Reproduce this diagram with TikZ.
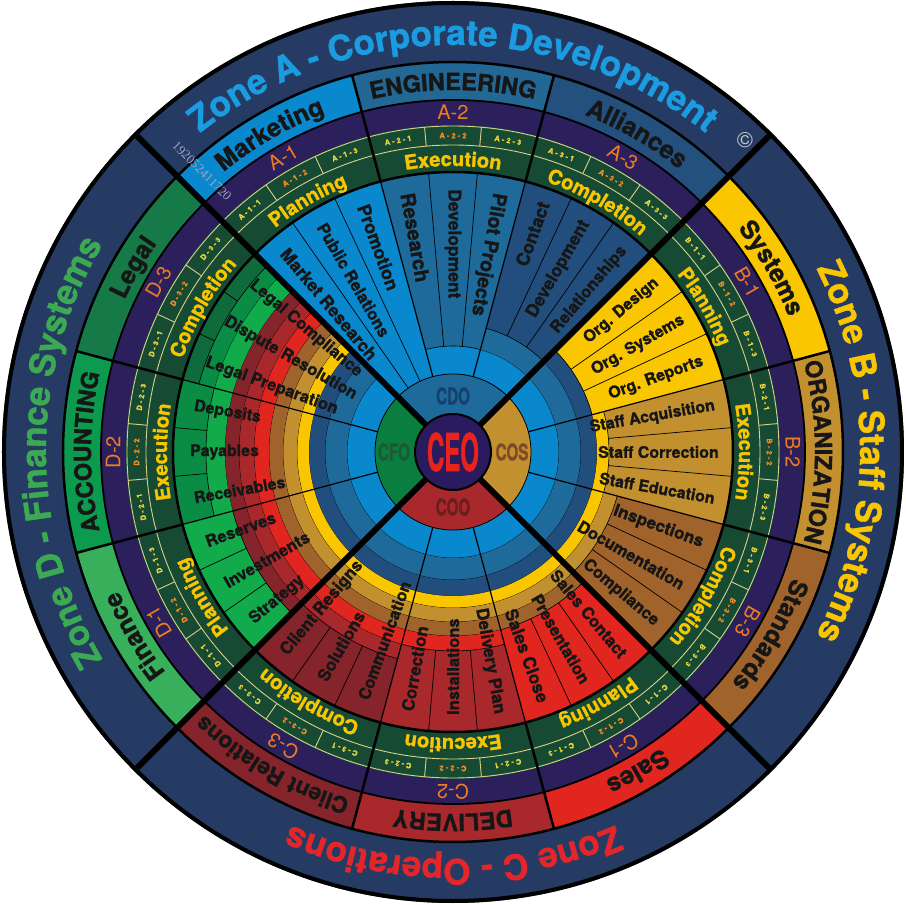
\documentclass[tikz,border=0pt]{standalone}
\usepackage{fontspec}
\usepackage{graphicx}
\setmainfont{TeX Gyre Heros}[BoldFeatures={FakeBold=1.3}]
\newfontfamily\lserif{Liberation Serif}
\usetikzlibrary{decorations.text}
% ring / department colours
\definecolor{c0}{HTML}{0A88CE}\definecolor{c1}{HTML}{1D6A9B}\definecolor{c2}{HTML}{224E7E}
\definecolor{c3}{HTML}{F9C600}\definecolor{c4}{HTML}{C3902F}\definecolor{c5}{HTML}{9F632B}
\definecolor{c6}{HTML}{E1261F}\definecolor{c7}{HTML}{A8282B}\definecolor{c8}{HTML}{85242A}
\definecolor{c9}{HTML}{12AB4C}\definecolor{c10}{HTML}{0B8C45}\definecolor{c11}{HTML}{0F6B3C}
\definecolor{b0}{HTML}{0A88CE}\definecolor{b1}{HTML}{236894}\definecolor{b2}{HTML}{24507E}
\definecolor{b3}{HTML}{F9C600}\definecolor{b4}{HTML}{C3902F}\definecolor{b5}{HTML}{9F632B}
\definecolor{b6}{HTML}{E1261F}\definecolor{b7}{HTML}{A8282B}\definecolor{b8}{HTML}{85242A}
\definecolor{b9}{HTML}{38AF5A}\definecolor{b10}{HTML}{0B9A4E}\definecolor{b11}{HTML}{167A48}
\definecolor{zbg}{HTML}{253B63}
\definecolor{purp}{HTML}{2B1F5C}
\definecolor{phg}{HTML}{174A32}
\definecolor{lightl}{HTML}{D6D28A}
\definecolor{suby}{HTML}{E8D43C}
\definecolor{subor}{HTML}{F28C28}
\definecolor{codeor}{HTML}{F07B22}
\definecolor{phy}{HTML}{F7C600}
\definecolor{itemtx}{HTML}{161616}
\definecolor{zA}{HTML}{1B9BE0}\definecolor{zB}{HTML}{F9C600}
\definecolor{zC}{HTML}{E2262A}\definecolor{zD}{HTML}{3BAA52}
\definecolor{cdo}{HTML}{1D6A9B}\definecolor{cosc}{HTML}{C3902F}
\definecolor{coo}{HTML}{A8282B}\definecolor{cfo}{HTML}{0A7E3E}
\definecolor{ceop}{HTML}{2A1B5E}\definecolor{ceored}{HTML}{E8231C}
\definecolor{tcdo}{HTML}{17406E}\definecolor{tcos}{HTML}{7C4A26}
\definecolor{tcoo}{HTML}{6A1E1E}\definecolor{tcfo}{HTML}{1B5A32}
\definecolor{serialc}{HTML}{9AA4C0}\definecolor{copyc}{HTML}{C8C8C8}
\def\rrad{{78,106,128,144,156,170,184,199,214,228,247,263}}
\newcommand\annsec[5]{\fill[#1] (#2:#4) arc[start angle=#2,end angle=#3,radius=#4] -- (#3:#5) arc[start angle=#3,end angle=#2,radius=#5] -- cycle;}
\newcommand\curvtext[5]{\path[decorate,decoration={text along path,text align=center,text={|#4|#5}}] (#2+#3:#1) arc[start angle=#2+#3,end angle=#2-#3,radius=#1];}
\newcommand\fzA{\bfseries\fontsize{35}{37}\selectfont\color{zA}}
\newcommand\fzB{\bfseries\fontsize{35}{37}\selectfont\color{zB}}
\newcommand\fzC{\bfseries\fontsize{35}{37}\selectfont\color{zC}}
\newcommand\fzD{\bfseries\fontsize{35}{37}\selectfont\color{zD}}
\newcommand\fdept{\bfseries\fontsize{25}{27}\selectfont\color{itemtx}}
\newcommand\fdeptC{\bfseries\fontsize{23.5}{25}\selectfont\color{itemtx}}
\newcommand\fdeptS{\bfseries\fontsize{22.5}{25}\selectfont\color{itemtx}}
\newcommand\fph{\bfseries\fontsize{20}{22}\selectfont\color{phy}}
\begin{document}
\begin{tikzpicture}[x=1pt,y=1pt,
  ringarc/.style={line width=0.6pt,draw=black},
  itemline/.style={line width=0.7pt,draw=black},
  itemtxt/.style={text=itemtx,inner sep=0pt},
  subtxt/.style={font=\bfseries\fontsize{7.5}{8}\selectfont,inner sep=0pt},
  codetxt/.style={font=\fontsize{20}{20}\selectfont,text=codeor,inner sep=0pt},
  lightline/.style={draw=lightl,line width=0.9pt},
  ctrtxt/.style={font=\bfseries\fontsize{23}{23}\selectfont,inner sep=0pt}]
\useasboundingbox (-453,-453) rectangle (453,452);
\fill[zbg] (0,0) circle (451);
% department bands
\foreach \kk in {0,...,11}{
  \pgfmathsetmacro\ahi{135-30*\kk}
  \pgfmathsetmacro\alo{105-30*\kk}
  \annsec{b\kk}{\alo}{\ahi}{352}{390}
}
\fill[purp] (0,0) circle (352);
\fill[phg] (0,0) circle (327);
% inner spiral rings
\foreach \kk in {0,...,11}{
  \pgfmathsetmacro\ahi{135-30*\kk}
  \pgfmathsetmacro\alo{105-30*\kk}
  \pgfmathsetmacro\rK{\rrad[\kk]}
  \annsec{c\kk}{\alo}{\ahi}{\rK}{280}
  \ifnum\kk>0
    \pgfmathtruncatemacro\kmm{\kk-1}
    \foreach \jj in {0,...,\kmm}{
      \pgfmathsetmacro\rA{\rrad[\jj]}
      \pgfmathtruncatemacro\jn{\jj+1}
      \pgfmathsetmacro\rB{\rrad[\jn]}
      \annsec{c\jj}{\alo}{\ahi}{\rA}{\rB}
      \draw[ringarc] (\alo:\rB) arc[start angle=\alo,end angle=\ahi,radius=\rB];
    }
  \fi
  \pgfmathsetmacro\aX{\ahi-10}
  \pgfmathsetmacro\aY{\ahi-20}
  \draw[itemline] (\aX:\rK) -- (\aX:280);
  \draw[itemline] (\aY:\rK) -- (\aY:280);
}
% centre quadrants
\fill[cdo] (0,0) -- (45:78) arc[start angle=45,end angle=135,radius=78] -- cycle;
\fill[cfo] (0,0) -- (135:78) arc[start angle=135,end angle=225,radius=78] -- cycle;
\fill[coo] (0,0) -- (225:78) arc[start angle=225,end angle=315,radius=78] -- cycle;
\fill[cosc] (0,0) -- (-45:78) arc[start angle=-45,end angle=45,radius=78] -- cycle;
\draw[line width=0.8pt] (0,0) circle (78);
% light sub-code lines
\draw[lightline] (0,0) circle (307);
\draw[lightline] (0,0) circle (326);
\foreach \m in {0,...,35}{
  \pgfmathtruncatemacro\mr{mod(\m,3)}
  \pgfmathsetmacro\aS{135-10*\m}
  \ifnum\mr>0 \draw[lightline] (\aS:307) -- (\aS:326); \fi
}
% circles
\draw[line width=2.5pt] (0,0) circle (280);
\draw[line width=1.8pt] (0,0) circle (352);
\draw[line width=2.5pt] (0,0) circle (390);
\draw[line width=4pt] (0,0) circle (449);
% department dividers
\foreach \aD in {105,75,15,-15,-75,-105,165,-165}{
  \draw[line width=1.2pt] (\aD:78) -- (\aD:280);
  \draw[line width=2.5pt] (\aD:280) -- (\aD:390);
}
% quadrant dividers
\foreach \aD in {45,135,225,315}{
  \draw[line width=6pt] (\aD:38) -- (\aD:449);
}
\fill[ceop] (0,0) circle (38);
\draw[line width=2pt] (0,0) circle (38);
% centre labels
\node (ceo) at (0,0) {\scalebox{0.46}[1]{\fontsize{52}{52}\selectfont\bfseries\color{ceored}CEO}};
\node[ctrtxt,text=tcdo] (cdo) at (90:56) {\scalebox{0.66}[1]{CDO}};
\node[ctrtxt,text=tcos] (cos) at (0:59) {\scalebox{0.66}[1]{COS}};
\node[ctrtxt,text=tcoo] (coo) at (-90:55) {\scalebox{0.66}[1]{COO}};
\node[ctrtxt,text=tcfo] (cfo) at (180:59) {\scalebox{0.66}[1]{CFO}};
% item texts reading outward
\foreach \aI/\fs/\txt in {70/18/Contact,60/17.5/Development,50/16.5/Relationships,40/16/Org. Design,30/16/Org. Systems,20/16/Org. Reports,10/16/Staff Acquisition,0/16/Staff Correction,-10/16/Staff Education,-20/17/Inspections,-30/16.5/Documentation,-40/16.5/Compliance,-50/16.5/Sales Contact,-60/16.5/Presentation,-70/17.5/Sales Close,-80/17/Delivery Plan}{
  \node[itemtxt,font=\bfseries\fontsize{\fs}{\fs}\selectfont,rotate=\aI,anchor=east] at (\aI:266) {\txt};
}
% item texts reading inward
\foreach \aI/\fs/\txt in {130/17.5/Market Research,120/16.5/Public Relations,110/18/Promotion,100/20/Research,90/17.5/Development,80/19.5/Pilot Projects,-90/16.5/Installations,-100/17/Correction,-110/16.5/Communication,-120/17/Solutions,-130/17/Client Resigns,-140/16.5/Strategy,-150/16.5/Investments,-160/16.5/Reserves,-170/16/Receivables,180/16/Payables,170/16/Deposits,160/16.5/Legal Preparation,150/16.5/Dispute Resolution,140/16.5/Legal Compliance}{
  \pgfmathsetmacro\rI{\aI-180}
  \node[itemtxt,font=\bfseries\fontsize{\fs}{\fs}\selectfont,rotate=\rI,anchor=west] at (\aI:263) {\txt};
}
% sub codes and department codes
\foreach \kk/\zl/\dnum in {0/A/1,1/A/2,2/A/3,3/B/1,4/B/2,5/B/3,6/C/1,7/C/2,8/C/3,9/D/1,10/D/2,11/D/3}{
  \foreach \mm in {1,2,3}{
    \pgfmathsetmacro\aS{135-30*\kk-10*\mm+5}
    \pgfmathsetmacro\rS{\aS-90}
    \ifnum\mm=2 \def\scol{subor}\else\def\scol{suby}\fi
    \node[subtxt,text=\scol,rotate=\rS] at (\aS:316.5) {\zl{} - \dnum{} - \mm};
  }
  \pgfmathsetmacro\aC{120-30*\kk}
  \pgfmathsetmacro\rC{\aC-90}
  \node[codetxt,rotate=\rC] at (\aC:340) {\zl-\dnum};
}
% phase names
\curvtext{286}{120}{22}{\fph}{Planning}
\curvtext{286}{90}{22}{\fph}{Execution}
\curvtext{286}{60}{22}{\fph}{Completion}
\curvtext{286}{30}{22}{\fph}{Planning}
\curvtext{286}{0}{22}{\fph}{Execution}
\curvtext{286}{-30}{22}{\fph}{Completion}
\curvtext{286}{-60}{22}{\fph}{Planning}
\curvtext{286}{-90}{22}{\fph}{Execution}
\curvtext{286}{-120}{22}{\fph}{Completion}
\curvtext{286}{-150}{22}{\fph}{Planning}
\curvtext{286}{-180}{22}{\fph}{Execution}
\curvtext{286}{150}{22}{\fph}{Completion}
% department names
\curvtext{362}{120}{25}{\fdept}{Marketing}
\curvtext{362}{90}{25}{\fdeptC}{ENGINEERING}
\curvtext{362}{60}{25}{\fdept}{Alliances}
\curvtext{362}{30}{25}{\fdept}{Systems}
\curvtext{362}{0}{25}{\fdeptC}{ORGANIZATION}
\curvtext{362}{-30}{25}{\fdept}{Standards}
\curvtext{362}{-60}{25}{\fdept}{Sales}
\curvtext{362}{-90}{25}{\fdeptC}{DELIVERY}
\curvtext{362}{-120}{25}{\fdeptS}{Client Relations}
\curvtext{362}{-150}{25}{\fdept}{Finance}
\curvtext{362}{-180}{25}{\fdeptC}{ACCOUNTING}
\curvtext{362}{150}{25}{\fdept}{Legal}
% zone titles
\curvtext{407}{90}{60}{\fzA}{Zone A - Corporate Development}
\curvtext{407}{0}{60}{\fzB}{Zone B - Staff Systems}
\curvtext{407}{-90}{60}{\fzC}{Zone C - Operations}
\curvtext{407}{180}{60}{\fzD}{Zone D - Finance Systems}
% marks
\node[text=copyc,font=\fontsize{22}{22}\selectfont,inner sep=0pt] (copy) at (292,312) {©};
\node[text=serialc,font=\lserif\fontsize{13}{13}\selectfont,rotate=-45,inner sep=0pt] (serial) at (-251,281) {192052411720};
\end{tikzpicture}
\end{document}
